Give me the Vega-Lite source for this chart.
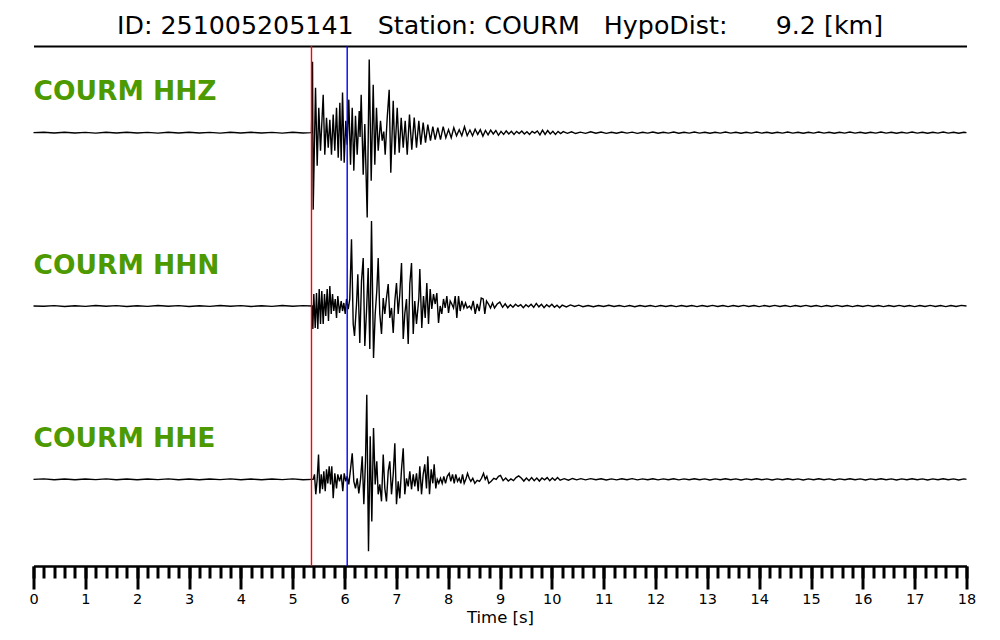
{
  "$schema": "https://vega.github.io/schema/vega-lite/v6.json",
  "background": "white",
  "padding": {"left": 28.5, "top": 14, "right": 0, "bottom": 0},
  "width": 933,
  "height": 520,
  "title": {"text": "ID: 251005205141\u00a0\u00a0\u00a0Station: COURM\u00a0\u00a0\u00a0HypoDist:\u00a0\u00a0\u00a0\u00a0\u00a0\u00a09.2 [km]", "font": "DejaVu Sans", "fontSize": 25.3, "fontWeight": "normal", "color": "black", "anchor": "middle", "offset": 6},
  "config": {"view": {"stroke": null}, "font": "DejaVu Sans", "axis": {"labelFont": "DejaVu Sans", "titleFont": "DejaVu Sans", "grid": false}},
  "resolve": {"scale": {"y": "independent"}, "axis": {"x": "independent"}},
  "datasets": {
    "hhz": [
      {"t":0,"v":0},{"t":0.2,"v":0.004},{"t":0.4,"v":-0.003},{"t":0.6,"v":0.005},{"t":0.8,"v":-0.004},{"t":1.0,"v":0.003},{"t":1.2,"v":-0.005},{"t":1.4,"v":0.004},{"t":1.6,"v":-0.003},{"t":1.8,"v":0.005},{"t":2.0,"v":-0.004},{"t":2.2,"v":0.003},{"t":2.4,"v":-0.005},{"t":2.6,"v":0.004},{"t":2.8,"v":-0.003},{"t":3.0,"v":0.005},{"t":3.2,"v":-0.004},{"t":3.4,"v":0.003},{"t":3.6,"v":-0.005},{"t":3.8,"v":0.004},{"t":4.0,"v":-0.003},{"t":4.2,"v":0.005},{"t":4.4,"v":-0.004},{"t":4.6,"v":0.003},{"t":4.8,"v":-0.005},{"t":5.0,"v":0.004},{"t":5.2,"v":-0.003},{"t":5.35,"v":0},
      {"t":5.363,"v":0},{"t":5.383,"v":0.819},{"t":5.396,"v":-0.888},{"t":5.441,"v":0.519},{"t":5.473,"v":-0.381},{"t":5.504,"v":0.288},{"t":5.537,"v":-0.208},{"t":5.589,"v":0.438},{"t":5.620,"v":-0.254},{"t":5.653,"v":0.173},{"t":5.686,"v":-0.173},{"t":5.717,"v":0.150},{"t":5.749,"v":-0.254},{"t":5.782,"v":0.208},{"t":5.813,"v":-0.208},{"t":5.846,"v":0.288},{"t":5.879,"v":-0.288},{"t":5.910,"v":0.346},{"t":5.936,"v":-0.323},{"t":5.962,"v":0.462},{"t":5.994,"v":-0.346},{"t":6.025,"v":0.138},{"t":6.052,"v":-0.138},{"t":6.083,"v":0.381},{"t":6.116,"v":-0.369},{"t":6.149,"v":0.288},{"t":6.180,"v":-0.438},{"t":6.212,"v":0.196},{"t":6.245,"v":-0.254},{"t":6.284,"v":0.25},{"t":6.300,"v":-0.05},{"t":6.322,"v":0.438},{"t":6.361,"v":-0.485},{"t":6.392,"v":0.10},{"t":6.438,"v":-0.98},{"t":6.477,"v":0.843},{"t":6.515,"v":-0.554},{"t":6.554,"v":0.554},{"t":6.585,"v":-0.369},{"t":6.617,"v":0.288},{"t":6.650,"v":-0.208},{"t":6.695,"v":0.138},{"t":6.727,"v":-0.092},{"t":6.758,"v":0.012},{"t":6.785,"v":-0.254},{"t":6.824,"v":0.173},{"t":6.862,"v":0.496},{"t":6.893,"v":-0.462},{"t":6.940,"v":0.369},{"t":6.971,"v":-0.254},{"t":7.017,"v":0.288},{"t":7.056,"v":-0.231},{"t":7.094,"v":0.173},{"t":7.133,"v":-0.173},{"t":7.171,"v":0.138},{"t":7.210,"v":-0.254},{"t":7.254,"v":0.208},{"t":7.298,"v":-0.196},{"t":7.345,"v":0.173},{"t":7.389,"v":-0.173},{"t":7.434,"v":0.138},{"t":7.472,"v":-0.138},{"t":7.518,"v":0.115},{"t":7.563,"v":-0.115},{"t":7.607,"v":0.092},{"t":7.659,"v":-0.092},{"t":7.704,"v":0.069},{"t":7.750,"v":-0.081},{"t":7.800,"v":0.058},{"t":7.852,"v":-0.081},{"t":7.904,"v":0.069},{"t":7.955,"v":-0.058},{"t":8.007,"v":0.035},{"t":8.059,"v":-0.058},{"t":8.109,"v":0.058},{"t":8.161,"v":-0.035},{"t":8.213,"v":0.035},{"t":8.263,"v":-0.035},{"t":8.315,"v":0.069},{"t":8.367,"v":-0.035},
      {"t":8.42,"v":0.03},{"t":8.47,"v":-0.035},{"t":8.52,"v":0.04},{"t":8.57,"v":-0.02},{"t":8.62,"v":0.035},{"t":8.67,"v":-0.04},{"t":8.72,"v":0.025},{"t":8.77,"v":-0.025},{"t":8.82,"v":0.03},{"t":8.87,"v":-0.015},{"t":8.92,"v":0.025},{"t":8.97,"v":-0.03},{"t":9.02,"v":0.015},{"t":9.07,"v":-0.02},{"t":9.12,"v":0.02},{"t":9.17,"v":-0.015},{"t":9.22,"v":0.015},{"t":9.27,"v":-0.02},{"t":9.32,"v":0.015},{"t":9.37,"v":-0.01},{"t":9.42,"v":0.02},{"t":9.47,"v":-0.015},{"t":9.52,"v":0.01},{"t":9.57,"v":-0.02},{"t":9.62,"v":0.015},{"t":9.67,"v":-0.005},{"t":9.72,"v":0.02},{"t":9.77,"v":-0.025},{"t":9.82,"v":0.03},{"t":9.87,"v":-0.02},{"t":9.92,"v":0.025},{"t":9.97,"v":-0.015},{"t":10.02,"v":0.015},{"t":10.07,"v":-0.02},{"t":10.12,"v":0.015},{"t":10.17,"v":-0.01},{"t":10.22,"v":0.012},{"t":10.3,"v":-0.008},{"t":10.38,"v":0.01},{"t":10.46,"v":-0.01},{"t":10.55,"v":0.006},{"t":10.65,"v":-0.008},{"t":10.75,"v":0.01},{"t":10.85,"v":-0.006},{"t":10.95,"v":0.008},{"t":11.05,"v":-0.008},{"t":11.15,"v":0.005},{"t":11.25,"v":-0.007},{"t":11.35,"v":0.008},{"t":11.45,"v":-0.005},{"t":11.55,"v":0.006},{"t":11.65,"v":-0.008},{"t":11.75,"v":0.005},{"t":11.85,"v":-0.005},{"t":11.95,"v":0.008},{"t":12.05,"v":-0.006},{"t":12.15,"v":0.005},{"t":12.25,"v":-0.005},{"t":12.35,"v":0.007},{"t":12.45,"v":-0.006},{"t":12.55,"v":0.005},{"t":12.65,"v":-0.005},{"t":12.75,"v":0.007},{"t":12.85,"v":-0.005},{"t":12.95,"v":0.005},{"t":13.05,"v":-0.007},{"t":13.15,"v":0.005},{"t":13.25,"v":-0.005},{"t":13.35,"v":0.007},{"t":13.45,"v":-0.005},{"t":13.55,"v":0.005},{"t":13.65,"v":-0.007},{"t":13.75,"v":0.005},{"t":13.85,"v":-0.005},{"t":13.95,"v":0.007},{"t":14.05,"v":-0.005},{"t":14.15,"v":0.005},{"t":14.25,"v":-0.007},{"t":14.35,"v":0.005},{"t":14.45,"v":-0.005},{"t":14.55,"v":0.007},{"t":14.65,"v":-0.005},{"t":14.75,"v":0.005},{"t":14.85,"v":-0.007},{"t":14.95,"v":0.005},{"t":15.05,"v":-0.005},{"t":15.15,"v":0.007},{"t":15.25,"v":-0.005},{"t":15.35,"v":0.005},{"t":15.45,"v":-0.007},{"t":15.55,"v":0.005},{"t":15.65,"v":-0.005},{"t":15.75,"v":0.007},{"t":15.85,"v":-0.005},{"t":15.95,"v":0.005},{"t":16.05,"v":-0.007},{"t":16.15,"v":0.005},{"t":16.25,"v":-0.005},{"t":16.35,"v":0.007},{"t":16.45,"v":-0.005},{"t":16.55,"v":0.005},{"t":16.65,"v":-0.007},{"t":16.75,"v":0.005},{"t":16.85,"v":-0.005},{"t":16.95,"v":0.007},{"t":17.05,"v":-0.005},{"t":17.15,"v":0.005},{"t":17.25,"v":-0.007},{"t":17.35,"v":0.005},{"t":17.45,"v":-0.005},{"t":17.55,"v":0.007},{"t":17.65,"v":-0.005},{"t":17.75,"v":0.005},{"t":17.85,"v":-0.007},{"t":17.95,"v":0.005},{"t":18.0,"v":0}
    ],
    "hhn": [
      {"t":0,"v":0},{"t":0.2,"v":-0.003},{"t":0.4,"v":0.004},{"t":0.6,"v":-0.005},{"t":0.8,"v":0.003},{"t":1.0,"v":-0.004},{"t":1.2,"v":0.005},{"t":1.4,"v":-0.003},{"t":1.6,"v":0.004},{"t":1.8,"v":-0.005},{"t":2.0,"v":0.003},{"t":2.2,"v":-0.004},{"t":2.4,"v":0.005},{"t":2.6,"v":-0.003},{"t":2.8,"v":0.004},{"t":3.0,"v":-0.005},{"t":3.2,"v":0.003},{"t":3.4,"v":-0.004},{"t":3.6,"v":0.005},{"t":3.8,"v":-0.003},{"t":4.0,"v":0.004},{"t":4.2,"v":-0.005},{"t":4.4,"v":0.003},{"t":4.6,"v":-0.004},{"t":4.8,"v":0.005},{"t":5.0,"v":-0.003},{"t":5.2,"v":0.004},{"t":5.36,"v":0},
      {"t":5.376,"v":0},{"t":5.389,"v":-0.265},{"t":5.408,"v":0.138},{"t":5.435,"v":-0.254},{"t":5.460,"v":0.150},{"t":5.485,"v":-0.265},{"t":5.512,"v":0.196},{"t":5.537,"v":-0.208},{"t":5.562,"v":0.173},{"t":5.589,"v":-0.208},{"t":5.614,"v":0.138},{"t":5.639,"v":-0.115},{"t":5.666,"v":0.196},{"t":5.691,"v":-0.173},{"t":5.717,"v":0.231},{"t":5.744,"v":-0.092},{"t":5.769,"v":0.138},{"t":5.794,"v":-0.058},{"t":5.821,"v":0.081},{"t":5.846,"v":-0.138},{"t":5.871,"v":0.115},{"t":5.904,"v":-0.081},{"t":5.936,"v":0.058},{"t":5.962,"v":-0.058},{"t":5.987,"v":0.035},{"t":6.014,"v":-0.092},{"t":6.039,"v":0.081},{"t":6.072,"v":-0.035},{"t":6.102,"v":0.081},{"t":6.135,"v":0.769},{"t":6.168,"v":-0.208},{"t":6.193,"v":-0.346},{"t":6.232,"v":0.023},{"t":6.257,"v":0.366},{"t":6.295,"v":-0.427},{"t":6.328,"v":0.288},{"t":6.361,"v":0.554},{"t":6.392,"v":-0.462},{"t":6.425,"v":-0.058},{"t":6.457,"v":0.438},{"t":6.488,"v":-0.496},{"t":6.521,"v":0.981},{"t":6.560,"v":-0.600},{"t":6.592,"v":-0.092},{"t":6.623,"v":0.173},{"t":6.650,"v":0.554},{"t":6.681,"v":-0.092},{"t":6.714,"v":-0.323},{"t":6.747,"v":0.092},{"t":6.778,"v":-0.092},{"t":6.810,"v":0.092},{"t":6.843,"v":0.254},{"t":6.874,"v":-0.138},{"t":6.907,"v":-0.023},{"t":6.940,"v":-0.312},{"t":6.971,"v":0.058},{"t":7.003,"v":0.265},{"t":7.036,"v":-0.092},{"t":7.067,"v":0.138},{"t":7.100,"v":0.496},{"t":7.133,"v":-0.381},{"t":7.163,"v":-0.092},{"t":7.196,"v":0.081},{"t":7.229,"v":-0.438},{"t":7.260,"v":0.254},{"t":7.293,"v":0.496},{"t":7.326,"v":-0.323},{"t":7.356,"v":0.058},{"t":7.389,"v":-0.208},{"t":7.434,"v":0.092},{"t":7.453,"v":0.427},{"t":7.491,"v":-0.254},{"t":7.524,"v":0.115},{"t":7.557,"v":-0.138},{"t":7.588,"v":0.265},{"t":7.621,"v":-0.208},{"t":7.653,"v":0.196},{"t":7.684,"v":-0.035},{"t":7.717,"v":0.138},{"t":7.750,"v":0.023},{"t":7.781,"v":0.150},{"t":7.814,"v":-0.196},{"t":7.846,"v":0},{"t":7.877,"v":-0.092},{"t":7.910,"v":0.081},{"t":7.943,"v":-0.023},{"t":7.974,"v":0.115},{"t":8.007,"v":-0.081},{"t":8.039,"v":0.058},{"t":8.070,"v":0.023},{"t":8.103,"v":-0.023},{"t":8.136,"v":0.115},{"t":8.167,"v":-0.138},{"t":8.200,"v":0.115},{"t":8.232,"v":-0.058},{"t":8.263,"v":0.058},{"t":8.302,"v":-0.023},{"t":8.335,"v":0.035},{"t":8.367,"v":-0.023},{"t":8.412,"v":0},{"t":8.445,"v":-0.035},{"t":8.483,"v":0.058},{"t":8.522,"v":-0.092},{"t":8.560,"v":0.023},{"t":8.599,"v":-0.058},{"t":8.638,"v":0.092},{"t":8.676,"v":0.081},{"t":8.707,"v":-0.092},{"t":8.740,"v":0.058},{"t":8.778,"v":0.023},{"t":8.817,"v":-0.023},{"t":8.856,"v":0.035},{"t":8.894,"v":-0.023},{"t":8.946,"v":0.023},{"t":8.996,"v":0.045},
      {"t":9.05,"v":-0.015},{"t":9.1,"v":0.025},{"t":9.15,"v":-0.02},{"t":9.2,"v":0.015},{"t":9.25,"v":-0.015},{"t":9.3,"v":0.02},{"t":9.35,"v":-0.005},{"t":9.4,"v":0.015},{"t":9.45,"v":-0.02},{"t":9.5,"v":0.015},{"t":9.55,"v":-0.01},{"t":9.6,"v":0.02},{"t":9.65,"v":-0.015},{"t":9.7,"v":0.03},{"t":9.75,"v":-0.01},{"t":9.8,"v":0.02},{"t":9.85,"v":-0.02},{"t":9.9,"v":0.015},{"t":9.95,"v":-0.01},{"t":10.0,"v":0.02},{"t":10.05,"v":-0.015},{"t":10.1,"v":0.01},{"t":10.15,"v":-0.02},{"t":10.2,"v":0.01},{"t":10.28,"v":-0.01},{"t":10.36,"v":0.012},{"t":10.44,"v":-0.006},{"t":10.52,"v":0.01},{"t":10.6,"v":-0.008},{"t":10.7,"v":0.006},{"t":10.8,"v":-0.008},{"t":10.9,"v":0.005},{"t":11.0,"v":-0.006},{"t":11.1,"v":0.008},{"t":11.2,"v":-0.005},{"t":11.3,"v":0.006},{"t":11.4,"v":-0.007},{"t":11.5,"v":0.005},{"t":11.6,"v":-0.008},{"t":11.7,"v":0.006},{"t":11.8,"v":-0.005},{"t":11.9,"v":0.005},{"t":12.0,"v":-0.007},{"t":12.1,"v":0.006},{"t":12.2,"v":-0.005},{"t":12.3,"v":0.005},{"t":12.4,"v":-0.007},{"t":12.5,"v":0.006},{"t":12.6,"v":-0.005},{"t":12.7,"v":0.005},{"t":12.8,"v":-0.007},{"t":12.9,"v":0.005},{"t":13.0,"v":-0.005},{"t":13.1,"v":0.007},{"t":13.2,"v":-0.005},{"t":13.3,"v":0.005},{"t":13.4,"v":-0.007},{"t":13.5,"v":0.005},{"t":13.6,"v":-0.005},{"t":13.7,"v":0.007},{"t":13.8,"v":-0.005},{"t":13.9,"v":0.005},{"t":14.0,"v":-0.007},{"t":14.1,"v":0.005},{"t":14.2,"v":-0.005},{"t":14.3,"v":0.007},{"t":14.4,"v":-0.005},{"t":14.5,"v":0.005},{"t":14.6,"v":-0.007},{"t":14.7,"v":0.005},{"t":14.8,"v":-0.005},{"t":14.9,"v":0.007},{"t":15.0,"v":-0.005},{"t":15.1,"v":0.005},{"t":15.2,"v":-0.007},{"t":15.3,"v":0.005},{"t":15.4,"v":-0.005},{"t":15.5,"v":0.007},{"t":15.6,"v":-0.005},{"t":15.7,"v":0.005},{"t":15.8,"v":-0.007},{"t":15.9,"v":0.005},{"t":16.0,"v":-0.005},{"t":16.1,"v":0.007},{"t":16.2,"v":-0.005},{"t":16.3,"v":0.005},{"t":16.4,"v":-0.007},{"t":16.5,"v":0.005},{"t":16.6,"v":-0.005},{"t":16.7,"v":0.007},{"t":16.8,"v":-0.005},{"t":16.9,"v":0.005},{"t":17.0,"v":-0.007},{"t":17.1,"v":0.005},{"t":17.2,"v":-0.005},{"t":17.3,"v":0.007},{"t":17.4,"v":-0.005},{"t":17.5,"v":0.005},{"t":17.6,"v":-0.007},{"t":17.7,"v":0.005},{"t":17.8,"v":-0.005},{"t":17.9,"v":0.007},{"t":18.0,"v":0}
    ],
    "hhe": [
      {"t":0,"v":0},{"t":0.2,"v":0.005},{"t":0.4,"v":-0.004},{"t":0.6,"v":0.003},{"t":0.8,"v":-0.005},{"t":1.0,"v":0.004},{"t":1.2,"v":-0.003},{"t":1.4,"v":0.005},{"t":1.6,"v":-0.004},{"t":1.8,"v":0.003},{"t":2.0,"v":-0.005},{"t":2.2,"v":0.004},{"t":2.4,"v":-0.003},{"t":2.6,"v":0.005},{"t":2.8,"v":-0.004},{"t":3.0,"v":0.003},{"t":3.2,"v":-0.005},{"t":3.4,"v":0.004},{"t":3.6,"v":-0.003},{"t":3.8,"v":0.005},{"t":4.0,"v":-0.004},{"t":4.2,"v":0.003},{"t":4.4,"v":-0.005},{"t":4.6,"v":0.004},{"t":4.8,"v":-0.003},{"t":5.0,"v":0.005},{"t":5.2,"v":-0.004},{"t":5.38,"v":0},
      {"t":5.396,"v":0},{"t":5.421,"v":0.058},{"t":5.446,"v":-0.173},{"t":5.473,"v":0},{"t":5.499,"v":0.285},{"t":5.524,"v":-0.162},{"t":5.551,"v":0.058},{"t":5.576,"v":-0.115},{"t":5.601,"v":0.092},{"t":5.628,"v":-0.138},{"t":5.653,"v":0.115},{"t":5.678,"v":-0.046},{"t":5.705,"v":0.150},{"t":5.730,"v":-0.058},{"t":5.755,"v":0.150},{"t":5.782,"v":-0.219},{"t":5.813,"v":0.069},{"t":5.846,"v":-0.104},{"t":5.871,"v":0.058},{"t":5.904,"v":-0.023},{"t":5.936,"v":0.058},{"t":5.967,"v":-0.138},{"t":5.994,"v":0.069},{"t":6.025,"v":-0.023},{"t":6.052,"v":0.035},{"t":6.083,"v":-0.058},{"t":6.116,"v":0.115},{"t":6.149,"v":0.300},{"t":6.180,"v":-0.023},{"t":6.212,"v":-0.104},{"t":6.245,"v":0.012},{"t":6.276,"v":-0.162},{"t":6.309,"v":0},{"t":6.342,"v":0.265},{"t":6.373,"v":-0.288},{"t":6.405,"v":0.208},{"t":6.430,"v":0.977},{"t":6.463,"v":-0.831},{"t":6.496,"v":0.496},{"t":6.527,"v":-0.485},{"t":6.560,"v":0.592},{"t":6.592,"v":-0.058},{"t":6.623,"v":0.208},{"t":6.650,"v":-0.173},{"t":6.681,"v":-0.058},{"t":6.714,"v":-0.254},{"t":6.747,"v":0.285},{"t":6.778,"v":-0.104},{"t":6.810,"v":-0.254},{"t":6.843,"v":0.092},{"t":6.874,"v":0.208},{"t":6.907,"v":-0.173},{"t":6.940,"v":0.058},{"t":6.971,"v":0.415},{"t":7.003,"v":-0.288},{"t":7.036,"v":-0.023},{"t":7.067,"v":-0.219},{"t":7.100,"v":0.115},{"t":7.133,"v":0.358},{"t":7.163,"v":-0.173},{"t":7.196,"v":0.012},{"t":7.229,"v":-0.081},{"t":7.260,"v":0.092},{"t":7.293,"v":-0.115},{"t":7.326,"v":0.058},{"t":7.356,"v":-0.081},{"t":7.389,"v":0.069},{"t":7.422,"v":-0.138},{"t":7.453,"v":0.150},{"t":7.486,"v":-0.173},{"t":7.518,"v":0.058},{"t":7.549,"v":0.173},{"t":7.582,"v":-0.104},{"t":7.607,"v":0.265},{"t":7.640,"v":-0.173},{"t":7.673,"v":0.115},{"t":7.704,"v":-0.046},{"t":7.730,"v":0.173},{"t":7.761,"v":-0.104},{"t":7.789,"v":0},{"t":7.819,"v":-0.046},{"t":7.852,"v":0.012},{"t":7.885,"v":-0.046},{"t":7.916,"v":0.035},{"t":7.949,"v":-0.046},{"t":7.982,"v":0.035},{"t":8.020,"v":0.069},{"t":8.051,"v":-0.023},{"t":8.084,"v":0.058},{"t":8.117,"v":-0.046},{"t":8.147,"v":0.058},{"t":8.180,"v":-0.023},{"t":8.213,"v":0.012},{"t":8.244,"v":-0.046},{"t":8.277,"v":0.058},{"t":8.309,"v":-0.046},{"t":8.341,"v":0},{"t":8.373,"v":0.069},{"t":8.406,"v":0.012},{"t":8.437,"v":-0.023},{"t":8.475,"v":0.012},{"t":8.514,"v":-0.046},{"t":8.560,"v":-0.012},{"t":8.605,"v":-0.023},{"t":8.643,"v":0.012},{"t":8.682,"v":0.069},{"t":8.715,"v":0},{"t":8.746,"v":0.035},{"t":8.784,"v":-0.046},{"t":8.830,"v":-0.023},{"t":8.881,"v":0.012},{"t":8.927,"v":0},{"t":8.971,"v":0.035},{"t":9.010,"v":0.045},
      {"t":9.06,"v":-0.015},{"t":9.11,"v":0.015},{"t":9.16,"v":-0.02},{"t":9.21,"v":0.005},{"t":9.26,"v":-0.015},{"t":9.31,"v":0.02},{"t":9.36,"v":0.04},{"t":9.41,"v":0.015},{"t":9.46,"v":-0.02},{"t":9.51,"v":0.015},{"t":9.56,"v":-0.015},{"t":9.61,"v":0.02},{"t":9.66,"v":-0.015},{"t":9.71,"v":0.015},{"t":9.76,"v":-0.02},{"t":9.81,"v":0.015},{"t":9.86,"v":-0.005},{"t":9.91,"v":0.02},{"t":9.96,"v":-0.015},{"t":10.01,"v":0.015},{"t":10.06,"v":-0.01},{"t":10.11,"v":0.02},{"t":10.16,"v":-0.01},{"t":10.24,"v":0.008},{"t":10.32,"v":-0.01},{"t":10.4,"v":0.01},{"t":10.48,"v":-0.006},{"t":10.56,"v":0.008},{"t":10.65,"v":-0.006},{"t":10.75,"v":0.008},{"t":10.85,"v":-0.005},{"t":10.95,"v":0.006},{"t":11.05,"v":-0.008},{"t":11.15,"v":0.005},{"t":11.25,"v":-0.006},{"t":11.35,"v":0.007},{"t":11.45,"v":-0.005},{"t":11.55,"v":0.008},{"t":11.65,"v":-0.006},{"t":11.75,"v":0.005},{"t":11.85,"v":-0.005},{"t":11.95,"v":0.007},{"t":12.05,"v":-0.006},{"t":12.15,"v":0.005},{"t":12.25,"v":-0.005},{"t":12.35,"v":0.007},{"t":12.45,"v":-0.006},{"t":12.55,"v":0.005},{"t":12.65,"v":-0.005},{"t":12.75,"v":0.007},{"t":12.85,"v":-0.005},{"t":12.95,"v":0.005},{"t":13.05,"v":-0.007},{"t":13.15,"v":0.005},{"t":13.25,"v":-0.005},{"t":13.35,"v":0.007},{"t":13.45,"v":-0.005},{"t":13.55,"v":0.005},{"t":13.65,"v":-0.007},{"t":13.75,"v":0.005},{"t":13.85,"v":-0.005},{"t":13.95,"v":0.007},{"t":14.05,"v":-0.005},{"t":14.15,"v":0.005},{"t":14.25,"v":-0.007},{"t":14.35,"v":0.005},{"t":14.45,"v":-0.005},{"t":14.55,"v":0.007},{"t":14.65,"v":-0.005},{"t":14.75,"v":0.005},{"t":14.85,"v":-0.007},{"t":14.95,"v":0.005},{"t":15.05,"v":-0.005},{"t":15.15,"v":0.007},{"t":15.25,"v":-0.005},{"t":15.35,"v":0.005},{"t":15.45,"v":-0.007},{"t":15.55,"v":0.005},{"t":15.65,"v":-0.005},{"t":15.75,"v":0.007},{"t":15.85,"v":-0.005},{"t":15.95,"v":0.005},{"t":16.05,"v":-0.007},{"t":16.15,"v":0.005},{"t":16.25,"v":-0.005},{"t":16.35,"v":0.007},{"t":16.45,"v":-0.005},{"t":16.55,"v":0.005},{"t":16.65,"v":-0.007},{"t":16.75,"v":0.005},{"t":16.85,"v":-0.005},{"t":16.95,"v":0.007},{"t":17.05,"v":-0.005},{"t":17.15,"v":0.005},{"t":17.25,"v":-0.007},{"t":17.35,"v":0.005},{"t":17.45,"v":-0.005},{"t":17.55,"v":0.007},{"t":17.65,"v":-0.005},{"t":17.75,"v":0.005},{"t":17.85,"v":-0.007},{"t":17.95,"v":0.005},{"t":18.0,"v":0}
    ]
  },
  "layer": [
    {"data": {"name": "hhz"}, "mark": {"type": "line", "color": "black", "strokeWidth": 1.4},
     "encoding": {
       "x": {"field": "t", "type": "quantitative", "scale": {"domain": [0, 18], "nice": false}, "axis": {"orient": "top", "domain": true, "domainColor": "black", "domainWidth": 2, "ticks": false, "labels": false, "title": null}},
       "y": {"field": "v", "type": "quantitative", "scale": {"domain": [-5, 1], "nice": false, "zero": false}, "axis": null}}},
    {"data": {"name": "hhn"}, "mark": {"type": "line", "color": "black", "strokeWidth": 1.4},
     "encoding": {
       "x": {"field": "t", "type": "quantitative", "scale": {"domain": [0, 18], "nice": false},
             "axis": {"orient": "bottom", "values": [0,0.2,0.4,0.6,0.8,1,1.2,1.4,1.6,1.8,2,2.2,2.4,2.6,2.8,3,3.2,3.4,3.6,3.8,4,4.2,4.4,4.6,4.8,5,5.2,5.4,5.6,5.8,6,6.2,6.4,6.6,6.8,7,7.2,7.4,7.6,7.8,8,8.2,8.4,8.6,8.8,9,9.2,9.4,9.6,9.8,10,10.2,10.4,10.6,10.8,11,11.2,11.4,11.6,11.8,12,12.2,12.4,12.6,12.8,13,13.2,13.4,13.6,13.8,14,14.2,14.4,14.6,14.8,15,15.2,15.4,15.6,15.8,16,16.2,16.4,16.6,16.8,17,17.2,17.4,17.6,17.8,18], "tickSize": 12, "tickWidth": 3, "tickColor": "black", "labels": false, "domain": true, "domainColor": "black", "domainWidth": 2.5, "title": null}},
       "y": {"field": "v", "type": "quantitative", "scale": {"domain": [-3, 3], "nice": false, "zero": false}, "axis": null}}},
    {"data": {"name": "hhe"}, "mark": {"type": "line", "color": "black", "strokeWidth": 1.4},
     "encoding": {
       "x": {"field": "t", "type": "quantitative", "scale": {"domain": [0, 18], "nice": false},
             "axis": {"orient": "bottom", "values": [0,1,2,3,4,5,6,7,8,9,10,11,12,13,14,15,16,17,18], "tickSize": 23, "tickWidth": 3, "tickColor": "black", "domain": false, "labels": true, "labelFontSize": 14.5, "labelColor": "black", "labelPadding": 3, "labelFlush": false, "labelOverlap": false, "title": "Time [s]", "titleFontSize": 16.5, "titleFontWeight": "normal", "titleColor": "black", "titlePadding": 4}},
       "y": {"field": "v", "type": "quantitative", "scale": {"domain": [-1, 5], "nice": false, "zero": false}, "axis": null}}},
    {"data": {"values": [{}]}, "mark": {"type": "rule", "color": "#ff0000", "strokeWidth": 1.4}, "encoding": {"x": {"datum": 5.363, "type": "quantitative", "axis": null}}},
    {"data": {"values": [{}]}, "mark": {"type": "rule", "color": "#0000ff", "strokeWidth": 1.4}, "encoding": {"x": {"datum": 6.052, "type": "quantitative", "axis": null}}},
    {"data": {"values": [{}]}, "mark": {"type": "text", "font": "DejaVu Sans", "fontWeight": "bold", "fontSize": 26.5, "color": "#4d9900", "align": "left", "baseline": "alphabetic"},
     "encoding": {"x": {"datum": 0, "type": "quantitative", "axis": null}, "y": {"datum": 0.375, "type": "quantitative", "scale": {"domain": [-5, 1], "nice": false, "zero": false}, "axis": null}, "text": {"value": "COURM HHZ"}}},
    {"data": {"values": [{}]}, "mark": {"type": "text", "font": "DejaVu Sans", "fontWeight": "bold", "fontSize": 26.5, "color": "#4d9900", "align": "left", "baseline": "alphabetic"},
     "encoding": {"x": {"datum": 0, "type": "quantitative", "axis": null}, "y": {"datum": 0.375, "type": "quantitative", "scale": {"domain": [-3, 3], "nice": false, "zero": false}, "axis": null}, "text": {"value": "COURM HHN"}}},
    {"data": {"values": [{}]}, "mark": {"type": "text", "font": "DejaVu Sans", "fontWeight": "bold", "fontSize": 26.5, "color": "#4d9900", "align": "left", "baseline": "alphabetic"},
     "encoding": {"x": {"datum": 0, "type": "quantitative", "axis": null}, "y": {"datum": 0.375, "type": "quantitative", "scale": {"domain": [-1, 5], "nice": false, "zero": false}, "axis": null}, "text": {"value": "COURM HHE"}}}
  ]
}
